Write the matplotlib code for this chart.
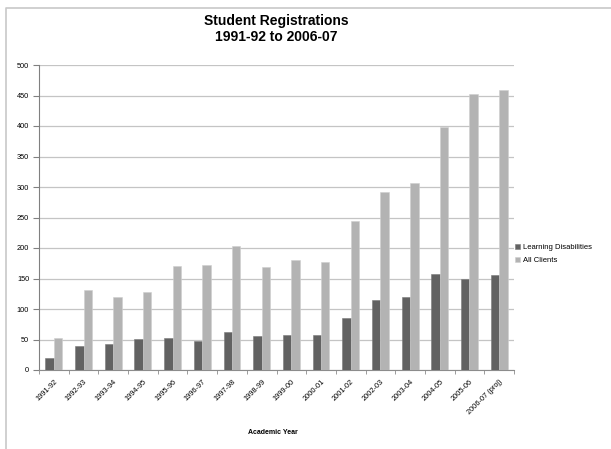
import numpy as np
import matplotlib.pyplot as plt
from matplotlib.lines import Line2D

plt.rcParams['font.family'] = ['Liberation Sans', 'DejaVu Sans']

# Data
years = ['1991-92', '1992-93', '1993-94', '1994-95', '1995-96', '1996-97',
         '1997-98', '1998-99', '1999-00', '2000-01', '2001-02', '2002-03',
         '2003-04', '2004-05', '2005-06', '2006-07 (proj)']
learning_disabilities = [20, 39, 42, 51, 53, 48, 63, 55, 58, 57, 85, 115, 120, 158, 149, 156]
all_clients = [53, 131, 119, 128, 170, 172, 204, 169, 180, 177, 245, 292, 307, 399, 452, 459]

fig = plt.figure(figsize=(6.11, 4.49), dpi=100)
ax = fig.add_axes([39 / 611, 79 / 449, 475 / 611, 305 / 449])

# Chart-area border (only left and top edges are visible in the crop)
bx, by = 6 / 611, 1 - 8 / 449
fig.lines.append(Line2D([bx, bx, 1.0], [0.0, by, by], transform=fig.transFigure,
                        color='#c8c8c8', linewidth=1.2))

x = np.arange(len(years))
w = 0.285
ax.bar(x - w / 2, learning_disabilities, w, color='#626262', edgecolor='#7a7a7a',
       linewidth=0.4, label='Learning Disabilities', zorder=3)
ax.bar(x + w / 2, all_clients, w, color='#b3b3b3', edgecolor='#cfcfcf',
       linewidth=0.4, label='All Clients', zorder=3)

ax.set_xlim(-0.5, len(years) - 0.5)
ax.set_ylim(0, 500)
ax.set_yticks(np.arange(0, 501, 50))
ax.yaxis.grid(True, color='#c4c4c4', linewidth=0.9)
ax.set_axisbelow(True)

for s in ['top', 'right']:
    ax.spines[s].set_visible(False)
ax.spines['left'].set_color('#808080')
ax.spines['bottom'].set_color('#8c8c8c')

ax.set_xticks(x)
ax.set_xticklabels(years, rotation=45, ha='right', rotation_mode='anchor')
ax.set_xticks(np.arange(-0.5, len(years)), minor=True)
ax.tick_params(axis='x', which='major', length=0, labelsize=5.3, pad=6)
ax.tick_params(axis='x', which='minor', length=3, color='#8c8c8c')
ax.tick_params(axis='y', length=4, color='#808080', labelsize=5.3, pad=3)

fig.text(276 / 611, 1 - 29 / 449, 'Student Registrations\n1991-92 to 2006-07',
         ha='center', va='center', fontsize=10, fontweight='bold',
         linespacing=1.15)
fig.text(273 / 611, 1 - 433 / 449, 'Academic Year', ha='center', va='center',
         fontsize=5, fontweight='bold')

fig.legend(loc='center left', bbox_to_anchor=(508 / 611, 1 - 254 / 449),
           frameon=False, fontsize=5.5, handlelength=0.7, handleheight=0.7,
           handletextpad=0.3, labelspacing=0.8)

fig.savefig('out.png', dpi=100)
